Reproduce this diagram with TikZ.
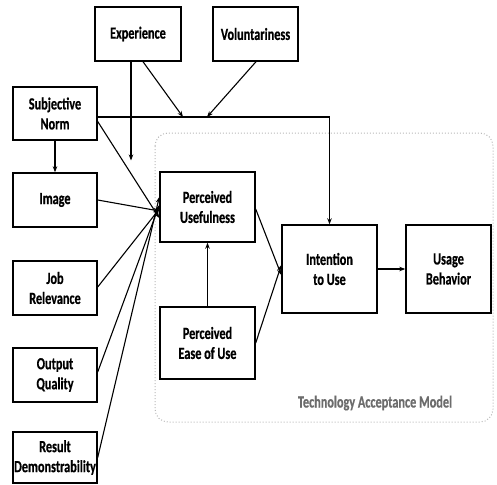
\documentclass[tikz,border=0pt]{standalone}
\usepackage{fontspec}
\setmainfont[FakeStretch=0.72,BoldFeatures={FakeBold=0.6}]{Carlito}
\usetikzlibrary{arrows.meta,calc}
\begin{document}
\begin{tikzpicture}[x=1pt,y=-1pt,
  box/.style={draw=black,line width=1.4pt,fill=white,align=center,
    font=\bfseries\fontsize{17}{20}\selectfont,inner sep=1pt},
  arr/.style={line width=1.1pt,-{Stealth[length=6pt,width=4.5pt]}},
  ln/.style={line width=1.1pt}]
\useasboundingbox (0,0) rectangle (497,484);

% Technology Acceptance Model frame
\draw[gray!55,line width=1pt,dotted,rounded corners=13pt] (155,133) rectangle (493,422);
\node[text=gray!85!black,font=\bfseries\fontsize{17}{20}\selectfont] (tamlabel) at (375,403) {Technology Acceptance Model};

% external variables
\node[box,minimum width=86pt,minimum height=54pt] (exp) at (138,34) {Experience};
\node[box,minimum width=85pt,minimum height=54pt] (vol) at (255.5,34) {Voluntariness};
\node[box,minimum width=84pt,minimum height=53pt] (sn) at (55,113.5) {Subjective\\Norm};
\node[box,minimum width=84pt,minimum height=54pt] (img) at (55,200) {Image};
\node[box,minimum width=84pt,minimum height=54pt] (job) at (55,288) {Job\\Relevance};
\node[box,minimum width=84pt,minimum height=54pt] (out) at (55,375) {Output\\Quality};
\node[box,minimum width=84pt,minimum height=51pt] (res) at (55,457.5) {Result\\Demonstrability};

% core model
\node[box,minimum width=95pt,minimum height=70pt] (pu) at (207.5,207) {Perceived\\Usefulness};
\node[box,minimum width=95pt,minimum height=72pt] (peou) at (207.5,343) {Perceived\\Ease of Use};
\node[box,minimum width=95pt,minimum height=88pt] (itu) at (329.5,269) {Intention\\to Use};
\node[box,minimum width=85pt,minimum height=88pt] (ub) at (448.5,269) {Usage\\Behavior};

% moderation points
\coordinate (m1) at (183,117);
\coordinate (m2) at (207,117);
\coordinate (m3) at (131,160.5);

% subjective norm to intention (moderated)
\draw[arr] ([yshift=-3.5pt]sn.east) -| (itu.north);
\draw[arr] ([xshift=5pt]exp.south) -- (m1);
\draw[arr] ([xshift=0.5pt]vol.south) -- (m2);

% subjective norm to perceived usefulness (moderated)
\draw[arr] ([yshift=-8pt]sn.east) -- ([yshift=-11pt]pu.west);
\draw[arr] ([xshift=-7pt]exp.south) -- (m3);

\draw[arr] (sn.south) -- (img.north);
\draw[arr] (img.east) -- ([yshift=-4pt]pu.west);
\draw[arr] ([yshift=1pt]job.east) -- ([yshift=-2pt]pu.west);
\draw[arr] ([yshift=3pt]out.east) -- ([yshift=2pt]pu.west);
\draw[arr] ([yshift=0pt]res.east) -- ([yshift=10pt]pu.west);

% TAM paths
\draw[arr] ([yshift=-2pt]pu.east) -- ([yshift=-6pt]itu.west);
\draw[arr] (peou.east) -- ([yshift=4pt]itu.west);
\draw[arr] (peou.north) -- (pu.south);
\draw[arr] (itu.east) -- (ub.west);
\end{tikzpicture}
\end{document}
